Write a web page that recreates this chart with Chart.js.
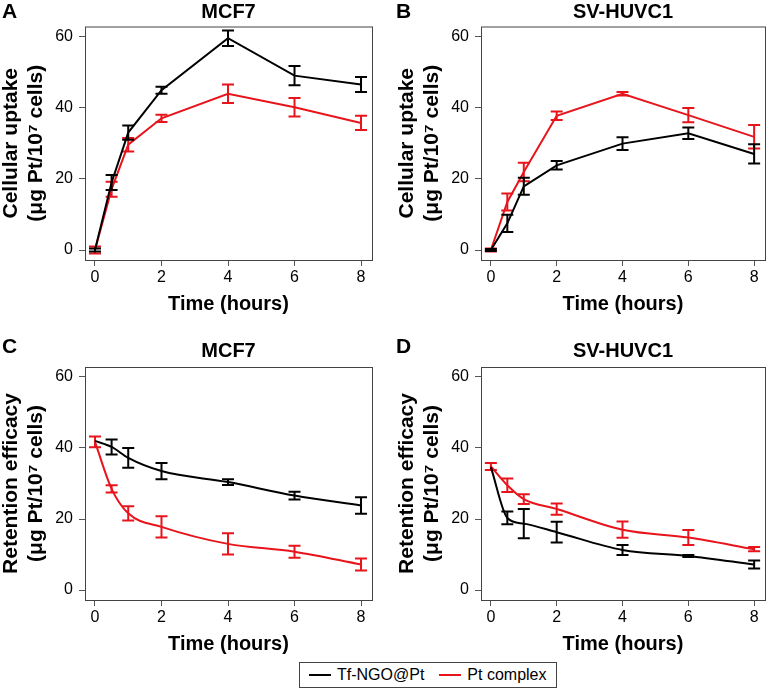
<!DOCTYPE html>
<html>
<head>
<meta charset="utf-8">
<script src="https://cdn.jsdelivr.net/npm/chart.js@4.4.1/dist/chart.umd.min.js"></script>
<style>
  body { margin: 0; background: #fff; font-family: 'Liberation Sans', Arial, sans-serif; }
  #lienzo { position: relative; width: 769px; height: 691px; }
  canvas { position: absolute; }
  .letra { position: absolute; font-weight: bold; font-size: 21px; line-height: 21px; }
  #leyenda {
    position: absolute; left: 299px; top: 662px; width: 258px; height: 26px;
    box-sizing: border-box; border: 1px solid #444; display: flex; align-items: center;
    font-size: 16px; padding-left: 9px; white-space: nowrap;
  }
  #leyenda .muestra { width: 22px; height: 2px; margin-right: 6px; }
</style>
</head>
<body>
<div id="lienzo">
  <canvas id="panelA" width="385" height="320" style="left:0;top:0"></canvas>
  <canvas id="panelB" width="384" height="320" style="left:385px;top:0"></canvas>
  <canvas id="panelC" width="385" height="320" style="left:0;top:340px"></canvas>
  <canvas id="panelD" width="384" height="320" style="left:385px;top:340px"></canvas>
  <div class="letra" style="left:2px;top:0">A</div>
  <div class="letra" style="left:396px;top:0">B</div>
  <div class="letra" style="left:2px;top:335px">C</div>
  <div class="letra" style="left:396px;top:335px">D</div>
  <div id="leyenda">
    <span class="muestra" style="background:#000"></span><span>Tf-NGO@Pt</span>
    <span class="muestra" style="background:#e8141c;margin-left:15px"></span><span>Pt complex</span>
  </div>
</div>
<script>
const horas = [0, 0.5, 1, 2, 4, 6, 8];
const ticksX = [0, 2, 4, 6, 8];
const ticksY = [0, 20, 40, 60];

// A: captacion MCF7
const captacionMcfTf = [0, 19, 33, 44.9, 59.5, 49, 46.5];
const errCaptacionMcfTf = [0.4, 2.1, 2, 1, 2.2, 2.7, 2.1];
const captacionMcfPt = [0, 17.1, 29.6, 37, 43.9, 40.1, 35.7];
const errCaptacionMcfPt = [1, 2.1, 1.9, 1, 2.6, 2.6, 2];

// B: captacion SV-HUVC1
const captacionHuvTf = [0, 7.5, 17.9, 23.8, 29.9, 32.8, 27];
const errCaptacionHuvTf = [0.3, 2.4, 2.4, 1.2, 1.8, 1.6, 2.7];
const captacionHuvPt = [0, 13.5, 21.9, 37.7, 43.9, 37.9, 31.8];
const errCaptacionHuvPt = [0.4, 2.4, 2.6, 1.2, 0.5, 2, 3.3];

// C: retencion MCF7
const retencionMcfTf = [42, 40.3, 37.2, 33.5, 30.4, 26.6, 23.8];
const errRetencionMcfTf = [0, 2.1, 2.8, 2.3, 0.8, 1.1, 2.3];
const retencionMcfPt = [41.7, 28.5, 21.6, 17.8, 13, 10.8, 7.2];
const errRetencionMcfPt = [1.5, 1, 2, 3, 3, 1.7, 1.7];

// D: retencion SV-HUVC1
const retencionHuvTf = [34.6, 20.3, 18.7, 16.3, 11.3, 9.6, 7.2];
const errRetencionHuvTf = [0, 1.8, 4.1, 2.9, 1.4, 0.3, 1.1];
const retencionHuvPt = [34.8, 29.5, 25.6, 22.8, 17, 14.8, 11.5];
const errRetencionHuvPt = [1, 1.9, 1.4, 1.6, 2.3, 2.1, 0.6];

const fuente = "'Liberation Sans', Arial, sans-serif";
const rojo = '#e8141c';

const barrasError = {
    id: 'barrasError',
    afterDatasetDraw(chart, args) {
        const ds = chart.data.datasets[args.index];
        const { ctx, scales: { x, y } } = chart;
        ctx.save();
        ctx.strokeStyle = ds.borderColor;
        ctx.lineWidth = 2;
        ds.data.forEach((p, i) => {
            const e = ds.errores[i];
            if (!e) return;
            const px = x.getPixelForValue(p.x);
            const arriba = y.getPixelForValue(p.y + e);
            const abajo = y.getPixelForValue(p.y - e);
            ctx.beginPath();
            ctx.moveTo(px, arriba); ctx.lineTo(px, abajo);
            ctx.moveTo(px - 6, arriba); ctx.lineTo(px + 6, arriba);
            ctx.moveTo(px - 6, abajo); ctx.lineTo(px + 6, abajo);
            ctx.stroke();
        });
        ctx.restore();
    }
};

const marco = {
    id: 'marco',
    afterDraw(chart) {
        const { ctx, chartArea: a } = chart;
        ctx.save();
        ctx.strokeStyle = '#444';
        ctx.lineWidth = 1;
        ctx.strokeRect(a.left + 0.5, a.top + 0.5, a.right - a.left, a.bottom - a.top);
        ctx.restore();
    }
};

const puntos = (valores) => valores.map((v, i) => ({ x: horas[i], y: v }));

const crearPanel = (canvasId, titulo, tituloY, tf, errTf, pt, errPt, izq, der, suave) => {
    const ctx = document.getElementById(canvasId);
    new Chart(ctx, {
        type: 'line',
        data: {
            datasets: [{
                label: 'Tf-NGO@Pt',
                data: puntos(tf),
                errores: errTf,
                borderColor: '#000',
                borderWidth: 2,
                pointRadius: 0,
                cubicInterpolationMode: suave ? 'monotone' : 'default'
            }, {
                label: 'Pt complex',
                data: puntos(pt),
                errores: errPt,
                borderColor: rojo,
                borderWidth: 2,
                pointRadius: 0,
                cubicInterpolationMode: suave ? 'monotone' : 'default'
            }]
        },
        plugins: [barrasError, marco],
        options: {
            responsive: false,
            animation: false,
            devicePixelRatio: 1,
            layout: { padding: { left: izq, right: der, top: 0, bottom: 4 } },
            plugins: {
                legend: { display: false },
                tooltip: { enabled: false },
                title: {
                    display: true,
                    text: titulo,
                    fullSize: false,
                    color: '#000',
                    font: { family: fuente, size: 20, weight: 'bold', lineHeight: 1.2 },
                    padding: suave ? { top: -0.5, bottom: 3.5 } : { top: 0.5, bottom: 2 }
                }
            },
            scales: {
                x: {
                    type: 'linear',
                    min: -0.3,
                    max: 8.33,
                    afterBuildTicks: s => { s.ticks = ticksX.map(v => ({ value: v })); },
                    afterFit: s => { s.height = 56; },
                    border: { display: false },
                    grid: { drawOnChartArea: false, tickLength: 6, color: '#555' },
                    ticks: { color: '#000', padding: 2, font: { family: fuente, size: 16 } },
                    title: {
                        display: true,
                        text: 'Time (hours)',
                        color: '#000',
                        padding: 0,
                        font: { family: fuente, size: 20, weight: 'bold', lineHeight: 1.2 }
                    }
                },
                y: {
                    min: -2.8,
                    max: 62.8,
                    afterBuildTicks: s => { s.ticks = ticksY.map(v => ({ value: v })); },
                    afterFit: s => { s.width = 85; },
                    border: { display: false },
                    grid: { drawOnChartArea: false, tickLength: 6, color: '#555' },
                    ticks: { color: '#000', padding: 6, font: { family: fuente, size: 16 } },
                    title: {
                        display: true,
                        text: tituloY,
                        color: '#000',
                        padding: { top: -1.6, bottom: 0 },
                        font: { family: fuente, size: 21, weight: 'bold', lineHeight: 1.2 }
                    }
                }
            }
        }
    });
};

crearPanel('panelA', 'MCF7', ['Cellular uptake', '(μg Pt/10⁷ cells)'],
    captacionMcfTf, errCaptacionMcfTf, captacionMcfPt, errCaptacionMcfPt, 0, 13, false);
crearPanel('panelB', 'SV-HUVC1', ['Cellular uptake', '(μg Pt/10⁷ cells)'],
    captacionHuvTf, errCaptacionHuvTf, captacionHuvPt, errCaptacionHuvPt, 11, 4, false);
crearPanel('panelC', 'MCF7', ['Retention efficacy', '(μg Pt/10⁷ cells)'],
    retencionMcfTf, errRetencionMcfTf, retencionMcfPt, errRetencionMcfPt, 0, 13, true);
crearPanel('panelD', 'SV-HUVC1', ['Retention efficacy', '(μg Pt/10⁷ cells)'],
    retencionHuvTf, errRetencionHuvTf, retencionHuvPt, errRetencionHuvPt, 11, 4, true);
</script>
</body>
</html>
